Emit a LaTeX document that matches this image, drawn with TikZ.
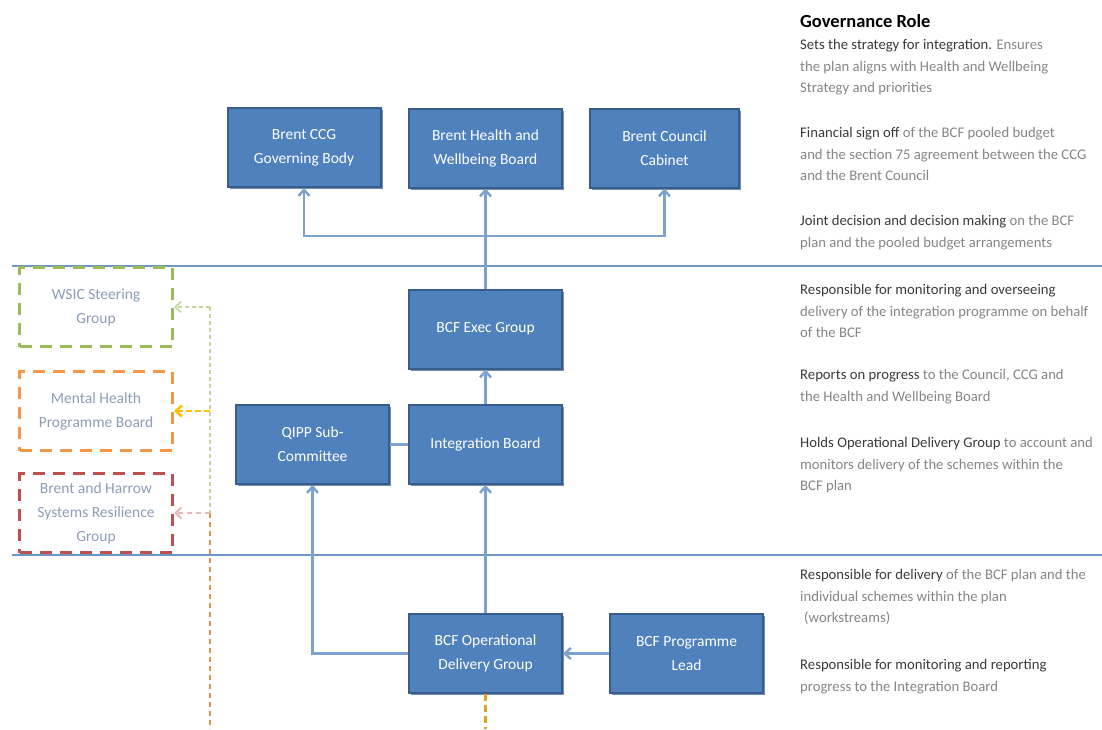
\documentclass[tikz,border=0pt]{standalone}
\usepackage{fontspec}
\setmainfont{Carlito}
\usetikzlibrary{arrows.meta,shadows}
\definecolor{boxfill}{HTML}{4F81BD}
\definecolor{boxline}{HTML}{385D8A}
\definecolor{conncol}{HTML}{7EA2CF}
\definecolor{sepcol}{HTML}{6F97C6}
\definecolor{gdash}{HTML}{9BBB59}
\definecolor{odash}{HTML}{F79646}
\definecolor{rdash}{HTML}{C0504D}
\definecolor{gdot}{HTML}{C3D69B}
\definecolor{ydot}{HTML}{FFC000}
\definecolor{rdot}{HTML}{E6B9B8}
\definecolor{odot}{HTML}{D9964A}
\definecolor{odotb}{HTML}{E0A030}
\definecolor{dtext}{HTML}{8C9DB8}
\definecolor{leadgray}{HTML}{3A3A3A}
\definecolor{restgray}{HTML}{858585}
\newcommand\leadtxt[1]{\textcolor{leadgray}{#1}}
\begin{document}
\begin{tikzpicture}[x=1pt,y=-1pt,
  bluebox/.style={draw=boxline, line width=2pt, fill=boxfill, minimum width=153pt,
    minimum height=79pt, text=white, font=\fontsize{15.5}{24}\selectfont, align=center,
    inner sep=0pt, drop shadow={shadow xshift=2pt, shadow yshift=-2pt, fill=boxline, opacity=0.7}},
  dashbox/.style={line width=3pt, dash pattern=on 12pt off 8pt, minimum width=153pt,
    minimum height=79pt, text=dtext, font=\fontsize{15.5}{24}\selectfont, align=center, inner sep=0pt},
  conn/.style={draw=conncol, line width=2.5pt},
  arr/.style={conn, -{Straight Barb[length=6pt,width=11pt]}},
  sepline/.style={draw=sepcol, line width=2pt},
  dotarr/.style={-{Straight Barb[length=6pt,width=11pt]}},
  rt/.style={anchor=north west, inner sep=0pt, align=left, text=restgray,
    font=\fontsize{14.7}{21.5}\selectfont},
  titletxt/.style={anchor=north west, inner sep=0pt, text=black,
    font=\fontsize{18.5}{22}\selectfont\bfseries}
]
\useasboundingbox (0,0) rectangle (1102,729);

% separator lines
\draw[sepline] (12,266) -- (1102,266);
\draw[sepline] (12,555) -- (1102,555);

% dotted connector from the delivery group (behind the box)
\coordinate (obot) at (485.5,729);

% main boxes
\node[bluebox] (ccg)  at (304,147.5) {Brent CCG\\Governing Body};
\node[bluebox] (hwb)  at (485.5,148) {Brent Health and\\Wellbeing Board};
\node[bluebox, minimum width=149pt] (cab) at (664.5,148) {Brent Council\\Cabinet};
\node[bluebox] (exec) at (485.5,329) {BCF Exec Group};
\node[bluebox] (qipp) at (312.5,444.5) {QIPP Sub-\\Committee};
\node[bluebox] (ib)   at (485.5,444.5) {Integration Board};
\node[bluebox] (odg)  at (485.5,653.5) {BCF Operational\\Delivery Group};
\node[bluebox] (lead) at (686.5,653.5) {BCF Programme\\Lead};

% dashed boxes
\node[dashbox, draw=gdash] (wsic) at (96,307) {WSIC Steering\\Group};
\node[dashbox, draw=odash] (mh)   at (96,411) {Mental Health\\Programme Board};
\node[dashbox, draw=rdash] (bh)   at (96,513) {Brent and Harrow\\Systems Resilience\\Group};

% connectors
\coordinate (j) at (485.5,236);
\draw[conn] (exec.north) -- (j);
\draw[arr] (j) -| (ccg.south);
\draw[arr] (j) -| (cab.south);
\draw[arr] (j) -- (hwb.south);
\draw[arr] (ib.north) -- (exec.south);
\draw[conn] (qipp.east) -- (ib.west);
\draw[arr] (odg.north) -- (ib.south);
\draw[arr] (odg.west) -| (qipp.south);
\draw[arr] (lead.west) -- (odg.east);

% dotted connectors
\coordinate (g) at (210,307);
\coordinate (yy) at (210,411);
\coordinate (r) at (210,513);
\coordinate (bot) at (210,729);
\draw[draw=gdot, line width=1.6pt, dash pattern=on 4pt off 3pt] (g) -- (r);
\draw[draw=odot, line width=1.8pt, dash pattern=on 5pt off 4pt] (r) -- (bot);
\draw[draw=gdot, line width=1.6pt, dash pattern=on 4pt off 3pt, dotarr] (g) -- (wsic.east);
\draw[draw=ydot, line width=2.5pt, dash pattern=on 6pt off 3pt, dotarr] (yy) -- (mh.east);
\draw[draw=rdot, line width=2pt, dash pattern=on 5pt off 4pt, dotarr] (r) -- (bh.east);
\draw[draw=odotb, line width=2.4pt, dash pattern=on 7pt off 4pt] (odg.south) -- (obot);

% governance role text
\node[titletxt] (title) at (800,14) {Governance Role};
\node[rt] (t1) at (800,39.5) {\leadtxt{Sets the strategy for integration.} Ensures\\the plan aligns with Health and Wellbeing\\Strategy and priorities};
\node[rt] (t2) at (800,127.5) {\leadtxt{Financial sign off} of the BCF pooled budget\\and the section 75 agreement between the CCG\\and the Brent Council};
\node[rt] (t3) at (800,215.5) {\leadtxt{Joint decision and decision making} on the BCF\\plan and the pooled budget arrangements};
\node[rt] (t4) at (800,284.5) {\leadtxt{Responsible for monitoring and overseeing}\\delivery of the integration programme on behalf\\of the BCF};
\node[rt] (t5) at (800,369.5) {\leadtxt{Reports on progress} to the Council, CCG and\\the Health and Wellbeing Board};
\node[rt] (t6) at (800,437.5) {\leadtxt{Holds Operational Delivery Group} to account and\\monitors delivery of the schemes within the\\BCF plan};
\node[rt] (t7) at (800,569.5) {\leadtxt{Responsible for delivery} of the BCF plan and the\\individual schemes within the plan\\\hspace*{4pt}(workstreams)};
\node[rt] (t8) at (800,659.5) {\leadtxt{Responsible for monitoring and reporting}\\progress to the Integration Board};
\end{tikzpicture}
\end{document}
